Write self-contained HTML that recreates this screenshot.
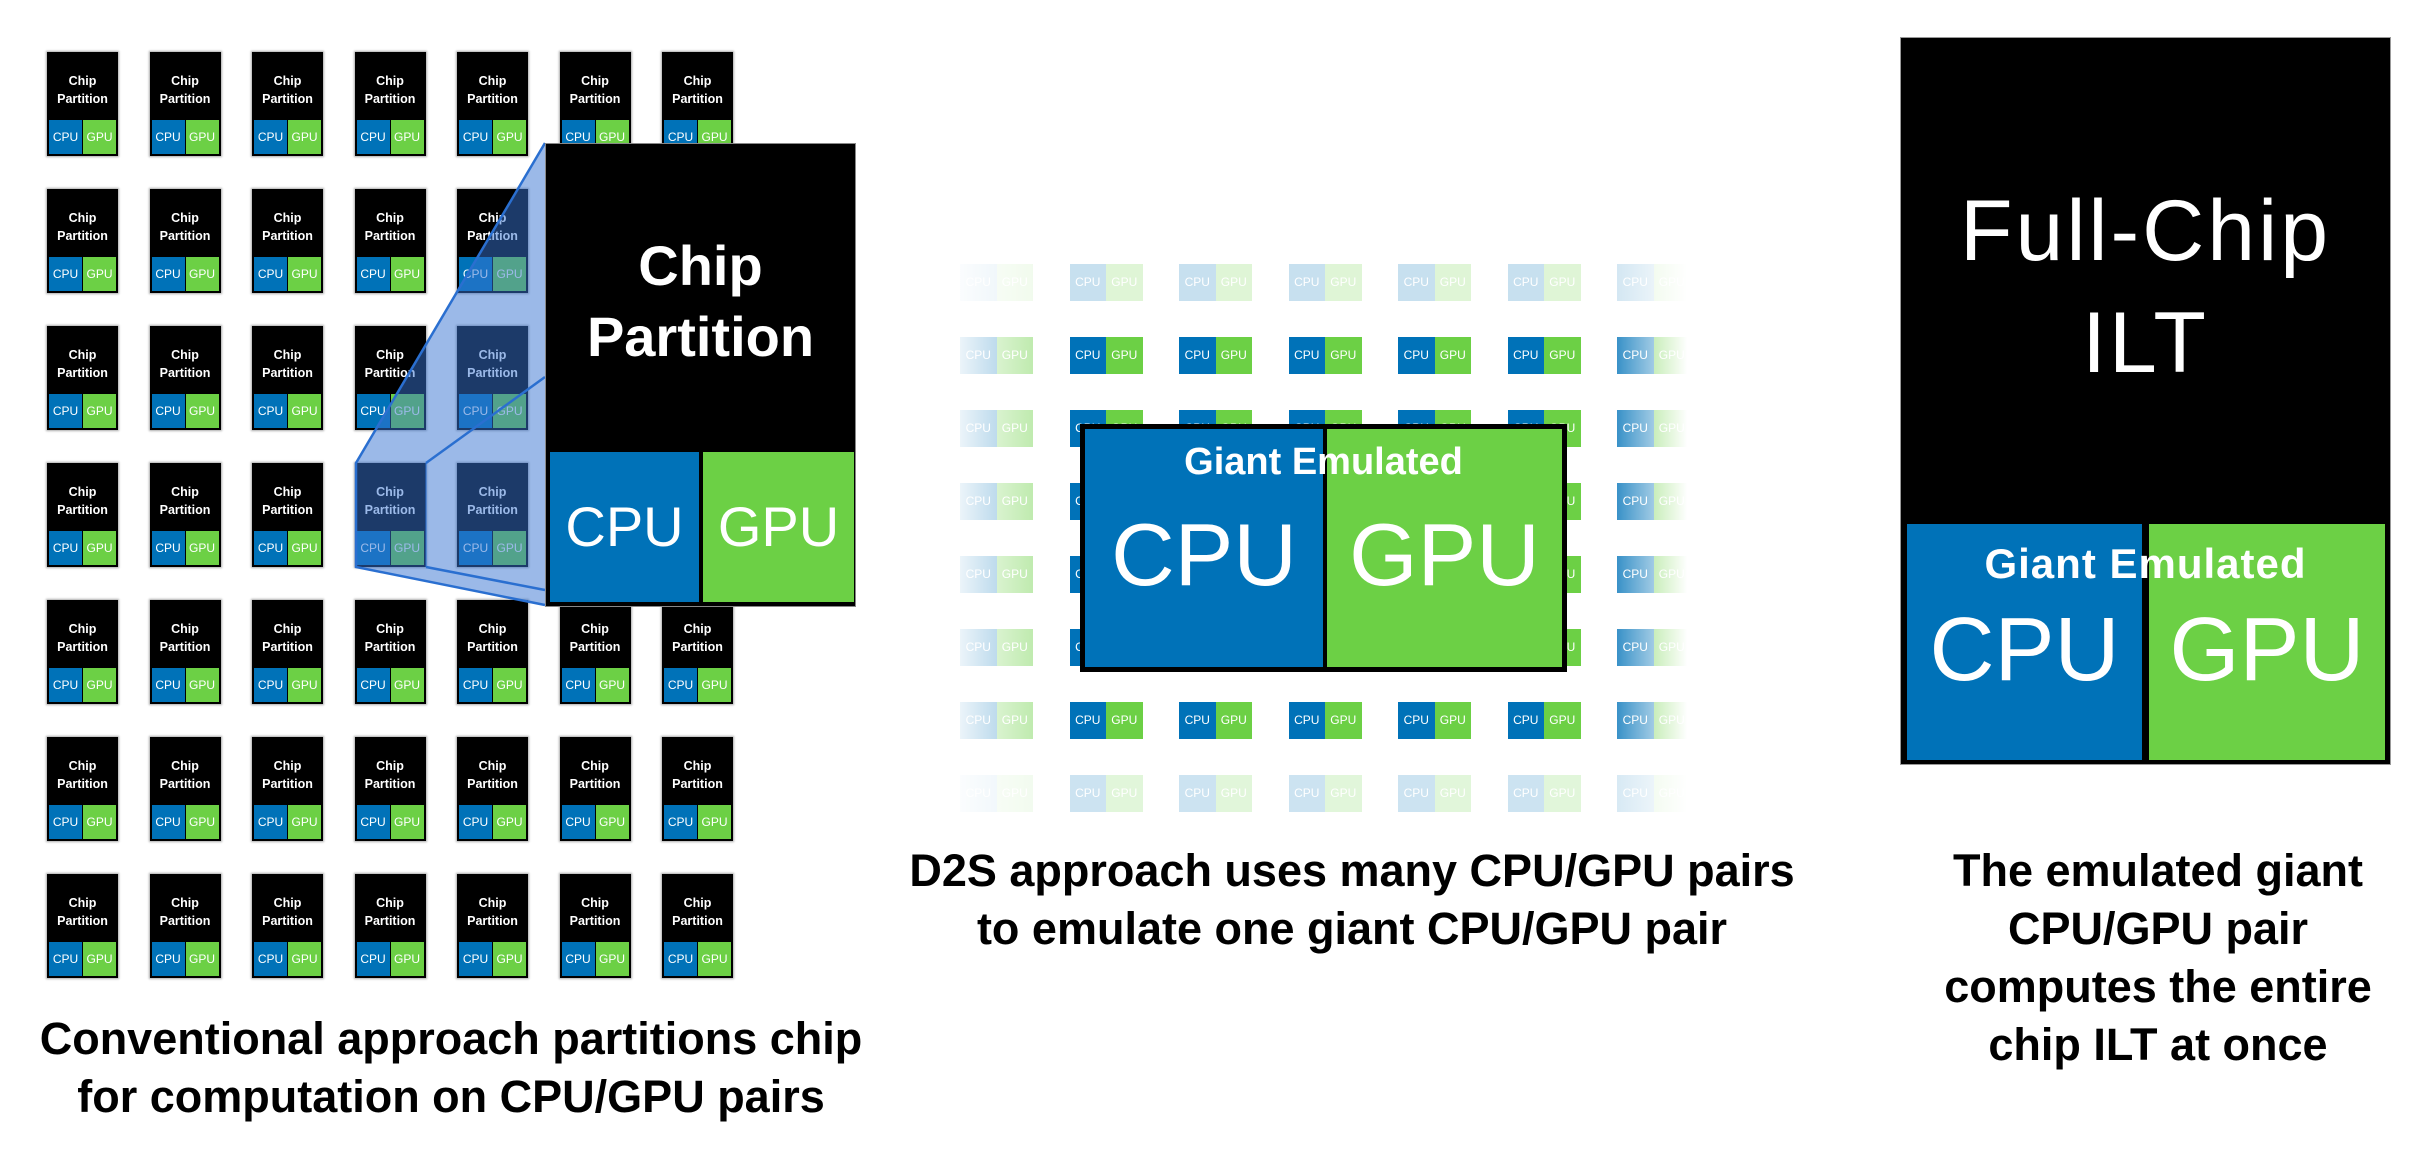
<!DOCTYPE html>
<html><head><meta charset="utf-8"><style>
*{margin:0;padding:0;box-sizing:border-box}
body{width:2422px;height:1164px;background:#fff;position:relative;overflow:hidden;font-family:"Liberation Sans",sans-serif}
.grid{position:absolute;left:47px;top:52px;display:grid;grid-template-columns:repeat(7,71px);column-gap:31.5px;grid-template-rows:repeat(7,104px);row-gap:33px}
.t{position:relative;background:#000;box-shadow:0 0 2px 1px #aaa;color:#fff;font-weight:bold}
.t b{position:absolute;left:0;right:0;top:20px;text-align:center;font-size:12.5px;line-height:18px}
.t i,.t u{position:absolute;bottom:2px;height:34px;width:33px;font-style:normal;text-decoration:none;font-size:12px;line-height:34px;text-align:center;font-weight:normal}
.t i{left:2px;background:#0072b8}.t u{left:36px;background:#6cd045}
.mg{position:absolute;left:960px;top:264px;display:grid;grid-template-columns:repeat(7,73px);column-gap:36.5px;grid-template-rows:repeat(8,37px);row-gap:36px}
.p{position:relative;color:#fff;font-size:12px;line-height:37px}
.p i,.p u{position:absolute;top:0;height:37px;width:36.5px;text-align:center;font-style:normal;text-decoration:none}
.p i{left:0;background:#0072b8}.p u{left:36.5px;background:#6cd045}
.abs{position:absolute}
.cap{position:absolute;font-weight:bold;color:#000;text-align:center;font-size:45px;line-height:58px;white-space:nowrap}
</style></head><body>

<div class="grid">
<div class="t"><b>Chip<br>Partition</b><i>CPU</i><u>GPU</u></div><div class="t"><b>Chip<br>Partition</b><i>CPU</i><u>GPU</u></div><div class="t"><b>Chip<br>Partition</b><i>CPU</i><u>GPU</u></div><div class="t"><b>Chip<br>Partition</b><i>CPU</i><u>GPU</u></div><div class="t"><b>Chip<br>Partition</b><i>CPU</i><u>GPU</u></div><div class="t"><b>Chip<br>Partition</b><i>CPU</i><u>GPU</u></div><div class="t"><b>Chip<br>Partition</b><i>CPU</i><u>GPU</u></div>
<div class="t"><b>Chip<br>Partition</b><i>CPU</i><u>GPU</u></div><div class="t"><b>Chip<br>Partition</b><i>CPU</i><u>GPU</u></div><div class="t"><b>Chip<br>Partition</b><i>CPU</i><u>GPU</u></div><div class="t"><b>Chip<br>Partition</b><i>CPU</i><u>GPU</u></div><div class="t"><b>Chip<br>Partition</b><i>CPU</i><u>GPU</u></div><div class="t"><b>Chip<br>Partition</b><i>CPU</i><u>GPU</u></div><div class="t"><b>Chip<br>Partition</b><i>CPU</i><u>GPU</u></div>
<div class="t"><b>Chip<br>Partition</b><i>CPU</i><u>GPU</u></div><div class="t"><b>Chip<br>Partition</b><i>CPU</i><u>GPU</u></div><div class="t"><b>Chip<br>Partition</b><i>CPU</i><u>GPU</u></div><div class="t"><b>Chip<br>Partition</b><i>CPU</i><u>GPU</u></div><div class="t"><b>Chip<br>Partition</b><i>CPU</i><u>GPU</u></div><div class="t"><b>Chip<br>Partition</b><i>CPU</i><u>GPU</u></div><div class="t"><b>Chip<br>Partition</b><i>CPU</i><u>GPU</u></div>
<div class="t"><b>Chip<br>Partition</b><i>CPU</i><u>GPU</u></div><div class="t"><b>Chip<br>Partition</b><i>CPU</i><u>GPU</u></div><div class="t"><b>Chip<br>Partition</b><i>CPU</i><u>GPU</u></div><div class="t"><b>Chip<br>Partition</b><i>CPU</i><u>GPU</u></div><div class="t"><b>Chip<br>Partition</b><i>CPU</i><u>GPU</u></div><div class="t"><b>Chip<br>Partition</b><i>CPU</i><u>GPU</u></div><div class="t"><b>Chip<br>Partition</b><i>CPU</i><u>GPU</u></div>
<div class="t"><b>Chip<br>Partition</b><i>CPU</i><u>GPU</u></div><div class="t"><b>Chip<br>Partition</b><i>CPU</i><u>GPU</u></div><div class="t"><b>Chip<br>Partition</b><i>CPU</i><u>GPU</u></div><div class="t"><b>Chip<br>Partition</b><i>CPU</i><u>GPU</u></div><div class="t"><b>Chip<br>Partition</b><i>CPU</i><u>GPU</u></div><div class="t"><b>Chip<br>Partition</b><i>CPU</i><u>GPU</u></div><div class="t"><b>Chip<br>Partition</b><i>CPU</i><u>GPU</u></div>
<div class="t"><b>Chip<br>Partition</b><i>CPU</i><u>GPU</u></div><div class="t"><b>Chip<br>Partition</b><i>CPU</i><u>GPU</u></div><div class="t"><b>Chip<br>Partition</b><i>CPU</i><u>GPU</u></div><div class="t"><b>Chip<br>Partition</b><i>CPU</i><u>GPU</u></div><div class="t"><b>Chip<br>Partition</b><i>CPU</i><u>GPU</u></div><div class="t"><b>Chip<br>Partition</b><i>CPU</i><u>GPU</u></div><div class="t"><b>Chip<br>Partition</b><i>CPU</i><u>GPU</u></div>
<div class="t"><b>Chip<br>Partition</b><i>CPU</i><u>GPU</u></div><div class="t"><b>Chip<br>Partition</b><i>CPU</i><u>GPU</u></div><div class="t"><b>Chip<br>Partition</b><i>CPU</i><u>GPU</u></div><div class="t"><b>Chip<br>Partition</b><i>CPU</i><u>GPU</u></div><div class="t"><b>Chip<br>Partition</b><i>CPU</i><u>GPU</u></div><div class="t"><b>Chip<br>Partition</b><i>CPU</i><u>GPU</u></div><div class="t"><b>Chip<br>Partition</b><i>CPU</i><u>GPU</u></div>
</div>

<svg class="abs" style="left:0;top:0" width="900" height="700">
<polygon points="545,143 356,463 356,567 545,605" fill="rgba(55,115,210,0.5)"/>
<polyline points="545,143 356,463 356,567 545,605" fill="none" stroke="#2a6fd0" stroke-width="2.5"/>
<line x1="426" y1="463" x2="545" y2="377" stroke="#2a6fd0" stroke-width="2.5"/>
<line x1="426" y1="567" x2="545" y2="590" stroke="#2a6fd0" stroke-width="2.5"/>
<line x1="426" y1="463" x2="426" y2="567" stroke="#2a6fd0" stroke-width="1"/>
</svg>

<div class="abs" style="left:545px;top:143px;width:311px;height:464px;background:#000;border:1px solid #888"></div>
<div class="abs" style="left:545px;top:230px;width:311px;text-align:center;color:#fff;font-weight:bold;font-size:56px;line-height:71px">Chip<br>Partition</div>
<div class="abs" style="left:550px;top:452px;width:149px;height:150px;background:#0072b8;color:#fff;font-size:56px;line-height:150px;text-align:center">CPU</div>
<div class="abs" style="left:703px;top:452px;width:151px;height:150px;background:#6cd045;color:#fff;font-size:56px;line-height:150px;text-align:center">GPU</div>

<div class="mg">
<div class="p"><i>CPU</i><u>GPU</u></div><div class="p"><i>CPU</i><u>GPU</u></div><div class="p"><i>CPU</i><u>GPU</u></div><div class="p"><i>CPU</i><u>GPU</u></div><div class="p"><i>CPU</i><u>GPU</u></div><div class="p"><i>CPU</i><u>GPU</u></div><div class="p"><i>CPU</i><u>GPU</u></div>
<div class="p"><i>CPU</i><u>GPU</u></div><div class="p"><i>CPU</i><u>GPU</u></div><div class="p"><i>CPU</i><u>GPU</u></div><div class="p"><i>CPU</i><u>GPU</u></div><div class="p"><i>CPU</i><u>GPU</u></div><div class="p"><i>CPU</i><u>GPU</u></div><div class="p"><i>CPU</i><u>GPU</u></div>
<div class="p"><i>CPU</i><u>GPU</u></div><div class="p"><i>CPU</i><u>GPU</u></div><div class="p"><i>CPU</i><u>GPU</u></div><div class="p"><i>CPU</i><u>GPU</u></div><div class="p"><i>CPU</i><u>GPU</u></div><div class="p"><i>CPU</i><u>GPU</u></div><div class="p"><i>CPU</i><u>GPU</u></div>
<div class="p"><i>CPU</i><u>GPU</u></div><div class="p"><i>CPU</i><u>GPU</u></div><div class="p"><i>CPU</i><u>GPU</u></div><div class="p"><i>CPU</i><u>GPU</u></div><div class="p"><i>CPU</i><u>GPU</u></div><div class="p"><i>CPU</i><u>GPU</u></div><div class="p"><i>CPU</i><u>GPU</u></div>
<div class="p"><i>CPU</i><u>GPU</u></div><div class="p"><i>CPU</i><u>GPU</u></div><div class="p"><i>CPU</i><u>GPU</u></div><div class="p"><i>CPU</i><u>GPU</u></div><div class="p"><i>CPU</i><u>GPU</u></div><div class="p"><i>CPU</i><u>GPU</u></div><div class="p"><i>CPU</i><u>GPU</u></div>
<div class="p"><i>CPU</i><u>GPU</u></div><div class="p"><i>CPU</i><u>GPU</u></div><div class="p"><i>CPU</i><u>GPU</u></div><div class="p"><i>CPU</i><u>GPU</u></div><div class="p"><i>CPU</i><u>GPU</u></div><div class="p"><i>CPU</i><u>GPU</u></div><div class="p"><i>CPU</i><u>GPU</u></div>
<div class="p"><i>CPU</i><u>GPU</u></div><div class="p"><i>CPU</i><u>GPU</u></div><div class="p"><i>CPU</i><u>GPU</u></div><div class="p"><i>CPU</i><u>GPU</u></div><div class="p"><i>CPU</i><u>GPU</u></div><div class="p"><i>CPU</i><u>GPU</u></div><div class="p"><i>CPU</i><u>GPU</u></div>
<div class="p"><i>CPU</i><u>GPU</u></div><div class="p"><i>CPU</i><u>GPU</u></div><div class="p"><i>CPU</i><u>GPU</u></div><div class="p"><i>CPU</i><u>GPU</u></div><div class="p"><i>CPU</i><u>GPU</u></div><div class="p"><i>CPU</i><u>GPU</u></div><div class="p"><i>CPU</i><u>GPU</u></div>
</div>
<!-- fade overlays -->
<div class="abs" style="left:955px;top:258px;width:745px;height:48px;background:rgba(255,255,255,0.78)"></div>
<div class="abs" style="left:955px;top:772px;width:745px;height:48px;background:rgba(255,255,255,0.8)"></div>
<div class="abs" style="left:955px;top:258px;width:82px;height:562px;background:linear-gradient(to right,rgba(255,255,255,0.95),rgba(255,255,255,0.55))"></div>
<div class="abs" style="left:1615px;top:258px;width:85px;height:562px;background:linear-gradient(to right,rgba(255,255,255,0.2),rgba(255,255,255,1) 85%)"></div>

<div class="abs" style="left:1080px;top:424px;width:487px;height:248px;border:5px solid #000;background:#0072b8"></div>
<div class="abs" style="left:1323px;top:429px;width:239px;height:238px;background:#6cd045;border-left:4px solid #000"></div>
<div class="abs" style="left:1080px;top:437px;width:487px;text-align:center;color:#fff;font-weight:bold;font-size:38px;line-height:50px">Giant Emulated</div>
<div class="abs" style="left:1085px;top:500px;width:238px;text-align:center;color:#fff;font-size:88px;line-height:110px">CPU</div>
<div class="abs" style="left:1327px;top:500px;width:235px;text-align:center;color:#fff;font-size:88px;line-height:110px">GPU</div>

<div class="abs" style="left:1900px;top:37px;width:491px;height:728px;background:#000;border:1px solid #999"></div>
<div class="abs" style="left:1900px;top:175px;width:491px;text-align:center;color:#fff;font-size:86px;line-height:112px;letter-spacing:3px">Full-Chip<br>ILT</div>
<div class="abs" style="left:1907px;top:524px;width:235px;height:236px;background:#0072b8"></div>
<div class="abs" style="left:2149px;top:524px;width:236px;height:236px;background:#6cd045"></div>
<div class="abs" style="left:1900px;top:538px;width:491px;text-align:center;color:#fff;font-weight:bold;font-size:42px;line-height:52px;letter-spacing:1px">Giant Emulated</div>
<div class="abs" style="left:1907px;top:595px;width:235px;text-align:center;color:#fff;font-size:90px;line-height:110px">CPU</div>
<div class="abs" style="left:2149px;top:595px;width:236px;text-align:center;color:#fff;font-size:90px;line-height:110px">GPU</div>

<div class="cap" style="left:0;width:902px;top:1010px">Conventional approach partitions chip<br>for computation on CPU/GPU pairs</div>
<div class="cap" style="left:852px;width:1000px;top:842px">D2S approach uses many CPU/GPU pairs<br>to emulate one giant CPU/GPU pair</div>
<div class="cap" style="left:1908px;width:500px;top:842px">The emulated giant<br>CPU/GPU pair<br>computes the entire<br>chip ILT at once</div>
</body></html>
